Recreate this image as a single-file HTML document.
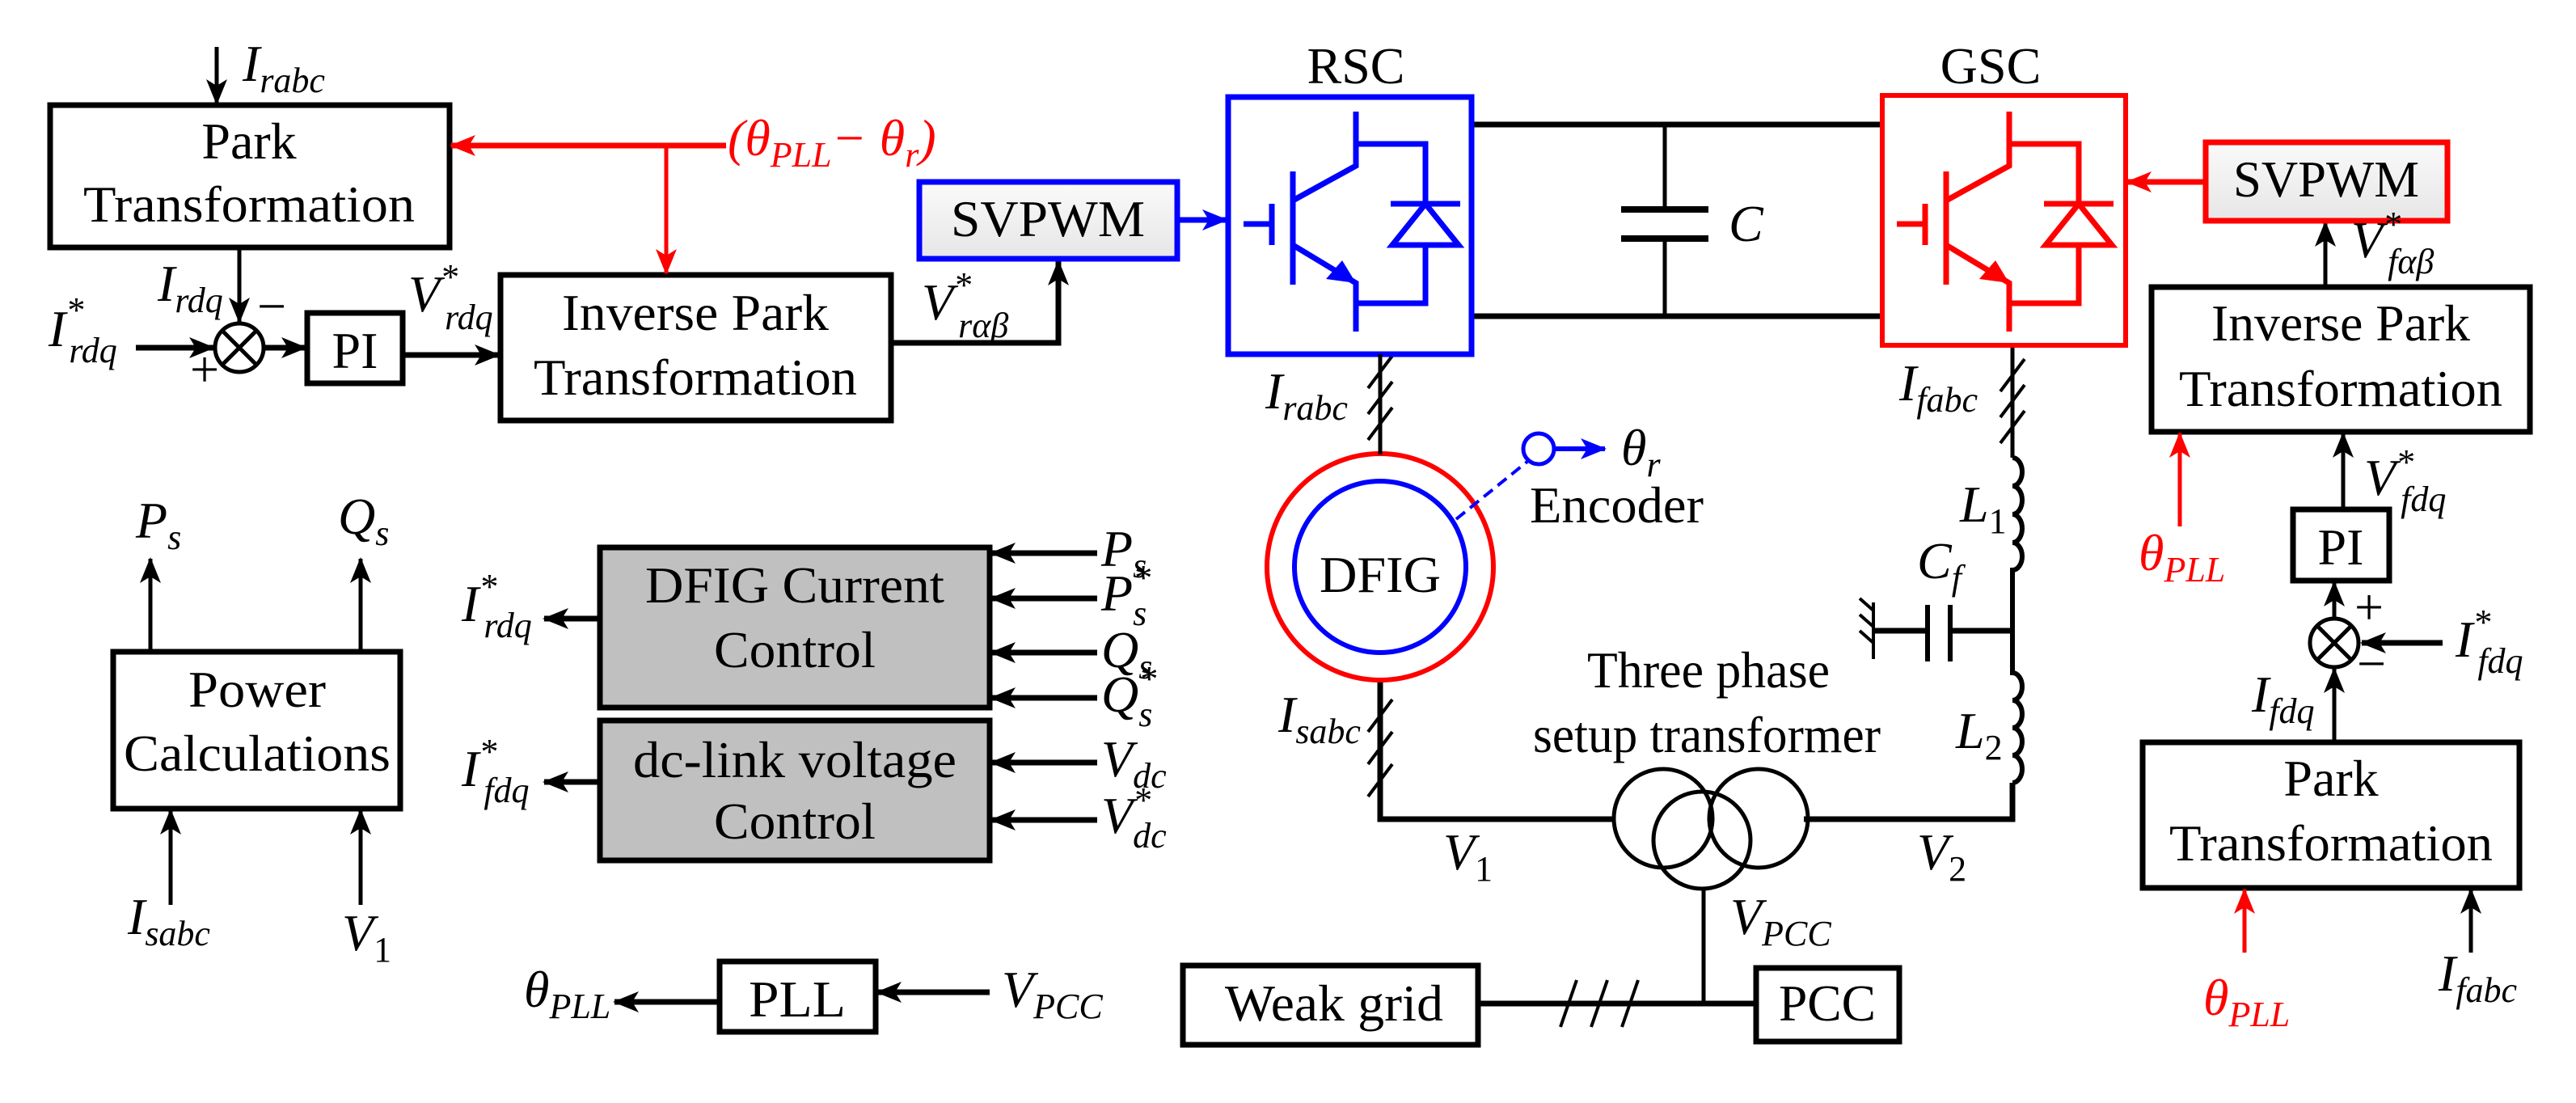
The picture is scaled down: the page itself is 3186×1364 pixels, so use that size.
<!DOCTYPE html>
<html><head><meta charset="utf-8"><style>
html,body{margin:0;padding:0;background:#fff}
svg{display:block}
svg, svg text{font-family:"Liberation Serif","Times New Roman","DejaVu Serif",serif;font-size:64px}
.i{font-style:italic}
.s{font-size:44px}
</style></head><body>
<svg width="3186" height="1364" viewBox="0 0 3186 1364" xmlns="http://www.w3.org/2000/svg" font-family="Liberation Serif, Times New Roman, DejaVu Serif, serif" font-size="64">
<defs>
<marker id="ak" markerUnits="userSpaceOnUse" markerWidth="32" markerHeight="26" refX="30" refY="13" orient="auto"><path d="M0,0 L32,13 L0,26 L8,13z" fill="#000"/></marker>
<marker id="ar" markerUnits="userSpaceOnUse" markerWidth="32" markerHeight="26" refX="30" refY="13" orient="auto"><path d="M0,0 L32,13 L0,26 L8,13z" fill="#f00"/></marker>
<marker id="ab" markerUnits="userSpaceOnUse" markerWidth="32" markerHeight="26" refX="30" refY="13" orient="auto"><path d="M0,0 L32,13 L0,26 L8,13z" fill="#00f"/></marker>
<linearGradient id="gg" x1="0" y1="0" x2="0" y2="1"><stop offset="0" stop-color="#fafafa"/><stop offset="1" stop-color="#e6e6e6"/></linearGradient>
<g id="igbt">
<path d="M1538,277 H1573 M1573,252 V303 M1599,212 V352 M1599,248 L1677,205 V138 M1677,205 V178 H1763 V252 M1599,303 L1677,350 V410 M1677,375 H1763 V303" fill="none" stroke-width="7"/>
<path d="M1720,252 H1806 M1763,252 L1722,303 H1804 Z" fill="none" stroke-width="7"/>
<path d="M1677,350 L1640,345 L1660,322 Z" stroke="none"/>
</g>
</defs>

<g stroke="#000" stroke-width="5" fill="none">
<rect x="62" y="130" width="494" height="176" stroke-width="7"/>
<rect x="619" y="340" width="483" height="180" stroke-width="7"/>
<rect x="380" y="387" width="118" height="87" stroke-width="7"/>
<circle cx="296" cy="430" r="30"/>
<path d="M275,409 L317,451 M317,409 L275,451"/>
<path d="M268,58 V128" marker-end="url(#ak)"/>
<path d="M296,306 V398" marker-end="url(#ak)"/>
<path d="M168,430 H264" stroke-width="7" marker-end="url(#ak)"/>
<path d="M326,430 H378" stroke-width="7" marker-end="url(#ak)"/>
<path d="M498,439 H617" stroke-width="7" marker-end="url(#ak)"/>
<path d="M1102,424 H1309 V323" stroke-width="7" marker-end="url(#ak)"/>
<rect x="140" y="806" width="355" height="194" stroke-width="7"/>
<path d="M186,806 V691" marker-end="url(#ak)"/>
<path d="M446,806 V691" marker-end="url(#ak)"/>
<path d="M211,1119 V1002" marker-end="url(#ak)"/>
<path d="M446,1119 V1002" marker-end="url(#ak)"/>
<rect x="742" y="677" width="482" height="198" fill="#c0c0c0" stroke-width="7"/>
<rect x="742" y="891" width="482" height="173" fill="#c0c0c0" stroke-width="7"/>
<g stroke-width="7">
<path d="M1357,684 H1226" marker-end="url(#ak)"/>
<path d="M1357,740 H1226" marker-end="url(#ak)"/>
<path d="M1357,807 H1226" marker-end="url(#ak)"/>
<path d="M1357,863 H1226" marker-end="url(#ak)"/>
<path d="M1357,943 H1226" marker-end="url(#ak)"/>
<path d="M1357,1014 H1226" marker-end="url(#ak)"/>
<path d="M742,765 H673" marker-end="url(#ak)"/>
<path d="M742,967 H673" marker-end="url(#ak)"/>
<rect x="890" y="1189" width="193" height="87"/>
<path d="M1224,1227 H1085" marker-end="url(#ak)"/>
<path d="M890,1239 H760" marker-end="url(#ak)"/>
</g>
<path d="M1820,154 H2328 M1820,391 H2328" stroke-width="7"/>
<path d="M2059,154 V259 M2059,295 V391"/>
<path d="M2005,259 H2113 M2005,295 H2113" stroke-width="8"/>
<path d="M1707,438 V562"/>
<path d="M1692,480 L1722,440 M1692,512 L1722,472 M1692,544 L1722,504" stroke-width="4"/>
<path d="M1707,841 V1013 H1997 M2231,1013 H2489 V968" stroke-width="7"/>
<path d="M1692,905 L1722,865 M1692,945 L1722,905 M1692,985 L1722,945" stroke-width="4"/>
<path d="M2489,427 V566"/>
<path d="M2474,484 L2504,444 M2474,516 L2504,476 M2474,548 L2504,508" stroke-width="4"/>
<path d="M2489,566 a12,17.5 0 0 1 0,35 a12,17.5 0 0 1 0,35 a12,17.5 0 0 1 0,35 a12,17 0 0 1 0,34 V832 a12,17 0 0 1 0,34 a12,17 0 0 1 0,34 a12,17 0 0 1 0,34 a12,17 0 0 1 0,34" stroke-width="6"/>
<path d="M2489,780 H2412 M2384,780 H2317" stroke-width="7"/>
<path d="M2412,748 V818 M2384,748 V818" stroke-width="6"/>
<path d="M2317,745 V815 M2317,755 L2300,740 M2317,775 L2300,760 M2317,795 L2300,780" stroke-width="4"/>
<circle cx="2057" cy="1012" r="61"/>
<circle cx="2175" cy="1012" r="61"/>
<circle cx="2105" cy="1039" r="60"/>
<path d="M2107,1099 V1241"/>
<path d="M1828,1241 H2172" stroke-width="7"/>
<path d="M1930,1270 L1950,1212 M1968,1270 L1988,1212 M2006,1270 L2026,1212" stroke-width="4"/>
<rect x="1463" y="1194" width="365" height="98" stroke-width="7"/>
<rect x="2172" y="1197" width="177" height="91" stroke-width="7"/>
<rect x="2661" y="355" width="468" height="179" stroke-width="7"/>
<path d="M2876,355 V275" marker-end="url(#ak)"/>
<path d="M2898,630 V536" marker-end="url(#ak)"/>
<rect x="2836" y="630" width="119" height="88" stroke-width="7"/>
<path d="M2887,764 V720" marker-end="url(#ak)"/>
<circle cx="2887" cy="795" r="30"/>
<path d="M2866,774 L2908,816 M2908,774 L2866,816"/>
<path d="M3021,795 H2921" stroke-width="7" marker-end="url(#ak)"/>
<path d="M2887,918 V827" marker-end="url(#ak)"/>
<rect x="2650" y="918" width="466" height="180" stroke-width="7"/>
<path d="M3056,1178 V1100" marker-end="url(#ak)"/>
</g>

<g stroke="#f00" fill="none" stroke-width="5">
<path d="M898,180 H558" stroke-width="7" marker-end="url(#ar)"/>
<path d="M824,180 V338" marker-end="url(#ar)"/>
<rect x="2328" y="118" width="301" height="309" stroke-width="6"/>
<rect x="2728" y="176" width="299" height="97" fill="url(#gg)" stroke-width="7"/>
<path d="M2728,225 H2631" stroke-width="7" marker-end="url(#ar)"/>
<path d="M2696,651 V536" marker-end="url(#ar)"/>
<path d="M2776,1178 V1100" marker-end="url(#ar)"/>
<circle cx="1707" cy="701" r="140" stroke-width="6"/>
</g>
<g stroke="#f00" fill="#f00"><use href="#igbt" transform="translate(808,0)"/></g>

<g stroke="#00f" fill="none">
<rect x="1137" y="225" width="319" height="95" fill="url(#gg)" stroke-width="7"/>
<path d="M1456,272 H1517" stroke-width="7" marker-end="url(#ab)"/>
<rect x="1519" y="120" width="301" height="318" stroke-width="7"/>
<circle cx="1707" cy="701" r="106" stroke-width="6"/>
<path d="M1801,642 L1890,570" stroke-width="4" stroke-dasharray="14,8"/>
<circle cx="1903" cy="555" r="19" stroke-width="5"/>
<path d="M1922,555 H1985" stroke-width="6" marker-end="url(#ab)"/>
</g>
<g stroke="#00f" fill="#00f"><use href="#igbt"/></g>
<path d="M1707,438 V562" stroke="#000" stroke-width="5"/>

<g text-anchor="middle" font-family="Liberation Serif, Times New Roman, DejaVu Serif, serif">
<text x="308" y="196">Park</text>
<text x="308" y="274" textLength="410" lengthAdjust="spacingAndGlyphs">Transformation</text>
<text x="860" y="408" textLength="330" lengthAdjust="spacingAndGlyphs">Inverse Park</text>
<text x="860" y="488" textLength="400" lengthAdjust="spacingAndGlyphs">Transformation</text>
<text x="1296" y="292" textLength="240" lengthAdjust="spacingAndGlyphs">SVPWM</text>
<text x="439" y="455">PI</text>
<text x="1677" y="103">RSC</text>
<text x="2462" y="103">GSC</text>
<text x="2877" y="243" textLength="230" lengthAdjust="spacingAndGlyphs">SVPWM</text>
<text x="2895" y="421" textLength="320" lengthAdjust="spacingAndGlyphs">Inverse Park</text>
<text x="2895" y="502" textLength="400" lengthAdjust="spacingAndGlyphs">Transformation</text>
<text x="2895" y="698">PI</text>
<text x="2883" y="984">Park</text>
<text x="2883" y="1064" textLength="400" lengthAdjust="spacingAndGlyphs">Transformation</text>
<text x="1707" y="732" textLength="150" lengthAdjust="spacingAndGlyphs">DFIG</text>
<text x="318" y="874" textLength="170" lengthAdjust="spacingAndGlyphs">Power</text>
<text x="318" y="953" textLength="330" lengthAdjust="spacingAndGlyphs">Calculations</text>
<text x="983" y="745" textLength="370" lengthAdjust="spacingAndGlyphs">DFIG Current</text>
<text x="983" y="825" textLength="200" lengthAdjust="spacingAndGlyphs">Control</text>
<text x="983" y="961" textLength="400" lengthAdjust="spacingAndGlyphs">dc-link voltage</text>
<text x="983" y="1037" textLength="200" lengthAdjust="spacingAndGlyphs">Control</text>
<text x="986" y="1257" textLength="120" lengthAdjust="spacingAndGlyphs">PLL</text>
<text x="1650" y="1262" textLength="270" lengthAdjust="spacingAndGlyphs">Weak grid</text>
<text x="2260" y="1262" textLength="120" lengthAdjust="spacingAndGlyphs">PCC</text>
<text x="2113" y="850" textLength="300" lengthAdjust="spacingAndGlyphs">Three phase</text>
<text x="2111" y="930" textLength="430" lengthAdjust="spacingAndGlyphs">setup transformer</text>
</g>
<text x="1892" y="646" textLength="215" lengthAdjust="spacingAndGlyphs">Encoder</text>

<g font-style="italic" font-family="Liberation Serif, Times New Roman, DejaVu Serif, serif">
<text class="i" x="300" y="100">I<tspan class="s" dy="14">rabc</tspan></text>
<text class="i" x="900" y="192" fill="#f00">(θ<tspan class="s" dy="14">PLL</tspan><tspan dy="-14">− θ</tspan><tspan class="s" dy="14">r</tspan><tspan dy="-14">)</tspan></text>
<text class="i" x="195" y="372">I<tspan class="s" dy="14">rdq</tspan></text>
<text x="318" y="400" font-style="normal">−</text>
<text x="235" y="478" font-style="normal">+</text>
<text class="i" x="60" y="428">I<tspan class="s" dy="-30">*</tspan><tspan class="s" dx="-18" dy="50">rdq</tspan></text>
<text class="i" x="505" y="385">V<tspan class="s" dy="-28">*</tspan><tspan class="s" dx="-16" dy="50">rdq</tspan></text>
<text class="i" x="1140" y="395">V<tspan class="s" dy="-28">*</tspan><tspan class="s" dx="-16" dy="50">rαβ</tspan></text>
<text class="i" x="1565" y="505">I<tspan class="s" dy="14">rabc</tspan></text>
<text class="i" x="2349" y="495">I<tspan class="s" dy="14">fabc</tspan></text>
<text class="i" x="2138" y="298">C</text>
<text class="i" x="2005" y="575">θ<tspan class="s" dy="14">r</tspan></text>
<text class="i" x="2424" y="645">L<tspan class="s" dy="14" font-style="normal">1</tspan></text>
<text class="i" x="2371" y="715">C<tspan class="s" dy="14">f</tspan></text>
<text class="i" x="2419" y="925">L<tspan class="s" dy="14" font-style="normal">2</tspan></text>
<text class="i" x="1581" y="905">I<tspan class="s" dy="14">sabc</tspan></text>
<text class="i" x="1785" y="1075">V<tspan class="s" dy="14" font-style="normal">1</tspan></text>
<text class="i" x="2371" y="1075">V<tspan class="s" dy="14" font-style="normal">2</tspan></text>
<text class="i" x="2140" y="1155">V<tspan class="s" dy="14">PCC</tspan></text>
<text class="i" x="2908" y="318">V<tspan class="s" dy="-26">*</tspan><tspan class="s" dx="-16" dy="46">fαβ</tspan></text>
<text class="i" x="2645" y="705" fill="#f00">θ<tspan class="s" dy="14">PLL</tspan></text>
<text class="i" x="2924" y="612">V<tspan class="s" dy="-26">*</tspan><tspan class="s" dx="-16" dy="46">fdq</tspan></text>
<text x="2912" y="772" font-style="normal">+</text>
<text x="2915" y="842" font-style="normal">−</text>
<text class="i" x="3037" y="812">I<tspan class="s" dy="-28">*</tspan><tspan class="s" dx="-16" dy="48">fdq</tspan></text>
<text class="i" x="2785" y="880">I<tspan class="s" dy="14">fdq</tspan></text>
<text class="i" x="2725" y="1255" fill="#f00">θ<tspan class="s" dy="14">PLL</tspan></text>
<text class="i" x="3016" y="1225">I<tspan class="s" dy="14">fabc</tspan></text>
<text class="i" x="168" y="665">P<tspan class="s" dy="14">s</tspan></text>
<text class="i" x="418" y="660">Q<tspan class="s" dy="14">s</tspan></text>
<text class="i" x="158" y="1155">I<tspan class="s" dy="14">sabc</tspan></text>
<text class="i" x="423" y="1175">V<tspan class="s" dy="14" font-style="normal">1</tspan></text>
<text class="i" x="571" y="768">I<tspan class="s" dy="-28">*</tspan><tspan class="s" dx="-16" dy="48">rdq</tspan></text>
<text class="i" x="571" y="972">I<tspan class="s" dy="-28">*</tspan><tspan class="s" dx="-16" dy="48">fdq</tspan></text>
<text class="i" x="1362" y="700">P<tspan class="s" dy="14">s</tspan></text>
<text class="i" x="1362" y="755">P<tspan class="s" dy="-26">*</tspan><tspan class="s" dx="-22" dy="44">s</tspan></text>
<text class="i" x="1362" y="825">Q<tspan class="s" dy="14">s</tspan></text>
<text class="i" x="1362" y="880">Q<tspan class="s" dy="-26">*</tspan><tspan class="s" dx="-22" dy="44">s</tspan></text>
<text class="i" x="1362" y="960">V<tspan class="s" dy="14">dc</tspan></text>
<text class="i" x="1362" y="1030">V<tspan class="s" dy="-26">*</tspan><tspan class="s" dx="-22" dy="44">dc</tspan></text>
<text class="i" x="648" y="1245">θ<tspan class="s" dy="14">PLL</tspan></text>
<text class="i" x="1239" y="1245">V<tspan class="s" dy="14">PCC</tspan></text>
</g>
</svg>
</body></html>
